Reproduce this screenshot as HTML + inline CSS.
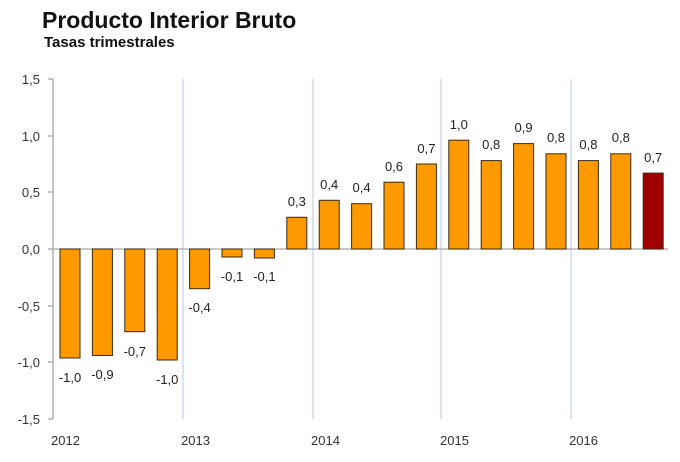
<!DOCTYPE html>
<html><head><meta charset="utf-8"><style>body{margin:0;background:#fff}svg{display:block}</style></head><body>
<svg width="680" height="462" xmlns="http://www.w3.org/2000/svg" font-family="Liberation Sans, DejaVu Sans, sans-serif">
<text x="42" y="28" font-size="23" font-weight="bold" fill="#111">Producto Interior Bruto</text>
<text x="44" y="47" font-size="15" font-weight="bold" fill="#111">Tasas trimestrales</text>
<g stroke="#b4c7e7" stroke-width="1">
<line x1="183" y1="79" x2="183" y2="419"/><line x1="313" y1="79" x2="313" y2="419"/><line x1="441" y1="79" x2="441" y2="419"/><line x1="571" y1="79" x2="571" y2="419"/>
</g>
<g stroke="#a6a6a6" stroke-width="1.3">
<line x1="53" y1="79" x2="53" y2="419"/>
<line x1="48" y1="79" x2="53" y2="79"/><line x1="48" y1="136" x2="53" y2="136"/><line x1="48" y1="192" x2="53" y2="192"/><line x1="48" y1="249" x2="53" y2="249"/><line x1="48" y1="306" x2="53" y2="306"/><line x1="48" y1="362" x2="53" y2="362"/><line x1="48" y1="419" x2="53" y2="419"/>
<line x1="53" y1="249" x2="668" y2="249"/>
</g>
<g font-size="13" fill="#333" text-anchor="end">
<text x="40" y="84">1,5</text><text x="40" y="141">1,0</text><text x="40" y="197">0,5</text><text x="40" y="254">0,0</text><text x="40" y="311">-0,5</text><text x="40" y="367">-1,0</text><text x="40" y="424">-1,5</text>
</g>
<g font-size="13" fill="#333">
<text x="51" y="445">2012</text><text x="181" y="445">2013</text><text x="311" y="445">2014</text><text x="440" y="445">2015</text><text x="569" y="445">2016</text>
</g>
<g fill="#ff9900" stroke="#3a2a10" stroke-width="1">
<rect x="60" y="249" width="20" height="109"/>
<rect x="92.4" y="249" width="20" height="106.5"/>
<rect x="124.8" y="249" width="20" height="82.7"/>
<rect x="157.2" y="249" width="20" height="111"/>
<rect x="189.6" y="249" width="20" height="39.7"/>
<rect x="222" y="249" width="20" height="8"/>
<rect x="254.4" y="249" width="20" height="9"/>
<rect x="286.8" y="217.3" width="20" height="31.7"/>
<rect x="319.2" y="200.3" width="20" height="48.7"/>
<rect x="351.6" y="203.7" width="20" height="45.3"/>
<rect x="384" y="182.2" width="20" height="66.8"/>
<rect x="416.4" y="164" width="20" height="85"/>
<rect x="448.8" y="140.2" width="20" height="108.8"/>
<rect x="481.2" y="160.6" width="20" height="88.4"/>
<rect x="513.6" y="143.6" width="20" height="105.4"/>
<rect x="546" y="153.8" width="20" height="95.2"/>
<rect x="578.4" y="160.6" width="20" height="88.4"/>
<rect x="610.8" y="153.8" width="20" height="95.2"/>
<rect x="643.2" y="173.1" width="20" height="75.9" fill="#a00000"/>
</g>
<g font-size="13" fill="#222" text-anchor="middle">
<text x="70" y="382">-1,0</text>
<text x="102.4" y="379">-0,9</text>
<text x="134.8" y="356">-0,7</text>
<text x="167.2" y="384">-1,0</text>
<text x="199.6" y="312">-0,4</text>
<text x="232" y="281">-0,1</text>
<text x="264.4" y="281">-0,1</text>
<text x="296.8" y="206">0,3</text>
<text x="329.2" y="189">0,4</text>
<text x="361.6" y="192">0,4</text>
<text x="394" y="171">0,6</text>
<text x="426.4" y="153">0,7</text>
<text x="458.8" y="129">1,0</text>
<text x="491.2" y="149">0,8</text>
<text x="523.6" y="132">0,9</text>
<text x="556" y="142">0,8</text>
<text x="588.4" y="149">0,8</text>
<text x="620.8" y="142">0,8</text>
<text x="653.2" y="162">0,7</text>
</g>
</svg>
</body></html>
